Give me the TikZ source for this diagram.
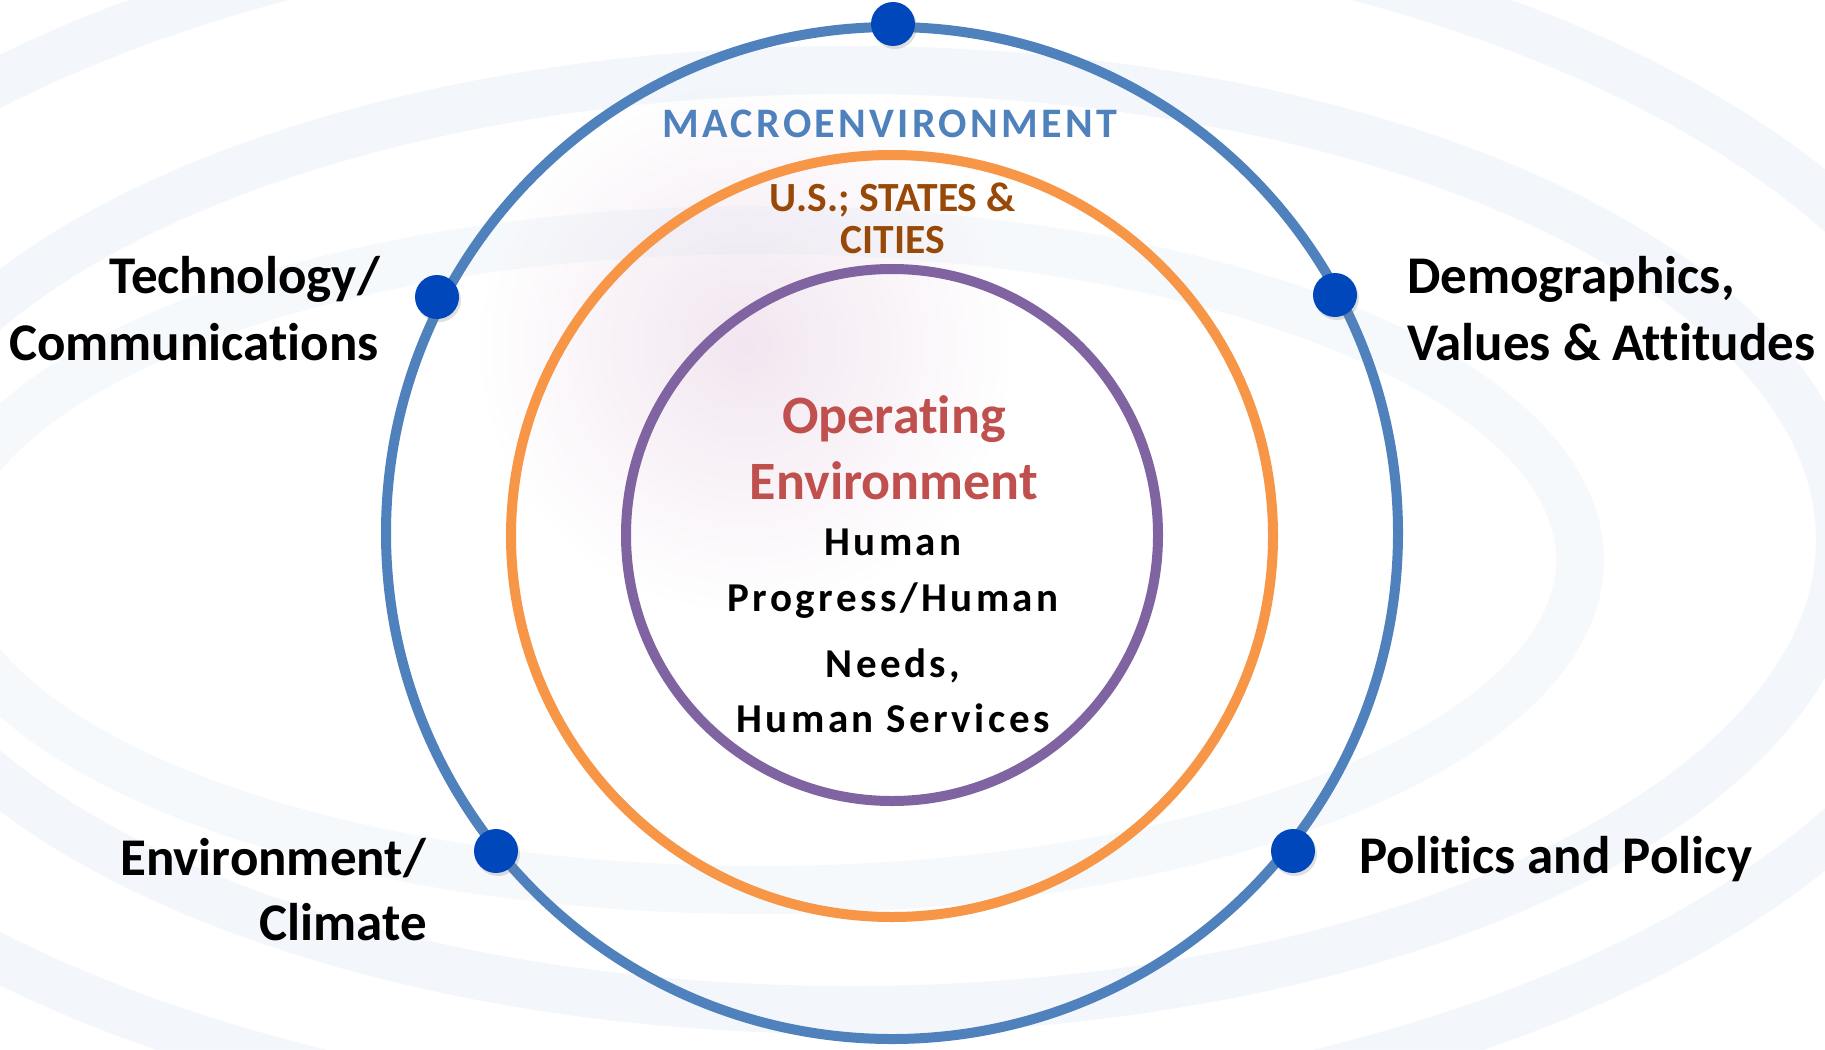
\documentclass[tikz,border=0pt]{standalone}
\usepackage{fontspec}
\setmainfont{Carlito}[Ligatures=NoCommon]
\newfontfamily\spacedfont{Carlito}[LetterSpace=8.5, Ligatures=NoCommon]
\newfontfamily\macrofont{Carlito}[LetterSpace=8, Ligatures=NoCommon]
\usetikzlibrary{shadows}
\definecolor{ringblue}{RGB}{79,129,189}
\definecolor{ringorange}{RGB}{247,150,70}
\definecolor{ringpurple}{RGB}{128,100,162}
\definecolor{dotblue}{RGB}{0,71,187}
\definecolor{usbrown}{RGB}{152,72,7}
\definecolor{opred}{RGB}{192,80,77}
\definecolor{swirl}{RGB}{214,226,240}
\definecolor{blush}{RGB}{242,230,240}
\tikzset{
  ring/.style={circle, draw=#1, line width=10pt, inner sep=0pt, outer sep=0pt},
  bigdot/.style={circle, fill=dotblue, minimum size=44pt, inner sep=0pt,
    drop shadow={shadow xshift=2pt, shadow yshift=-3pt, opacity=0.25}},
  outerlabel/.style={font=\fontsize{53}{66}\selectfont\bfseries, text=black, inner sep=0pt},
  centerred/.style={font=\fontsize{54}{64}\selectfont\bfseries, text=opred, inner sep=0pt, anchor=base},
  centerblack/.style={font=\fontsize{41}{50}\spacedfont\bfseries, text=black, inner sep=0pt, anchor=base},
  usstyle/.style={font=\fontsize{41.5}{43}\selectfont\bfseries, text=usbrown, inner sep=0pt, anchor=base},
  swirlband/.style={draw=swirl, line width=48pt, opacity=0.28}
}
\begin{document}
\begin{tikzpicture}[x=1pt,y=-1pt]
\path[use as bounding box, fill=white] (0,0) rectangle (1825,1049);
\begin{scope}
\clip (0,0) rectangle (1825,1049);
\shade[inner color=blush, outer color=white] (745,345) circle[radius=270];
\draw[swirlband] (850,540) ellipse[x radius=990, y radius=470];
\draw[swirlband] (820,520) ellipse[x radius=1180, y radius=610];
\draw[swirlband, opacity=0.2] (760,560) ellipse[x radius=820, y radius=330];
\end{scope}
% rings
\node[ring=ringblue, minimum size=1012pt] (outer) at (892,533) {};
\node[ring=ringorange, minimum size=762pt] (middle) at (892,536) {};
\node[ring=ringpurple, minimum size=532pt] (inner) at (892,535) {};
% dots
\node[bigdot] (dtop) at (893,24) {};
\node[bigdot] (dtl) at (437,297) {};
\node[bigdot] (dtr) at (1335,295) {};
\node[bigdot] (dbl) at (496,851) {};
\node[bigdot] (dbr) at (1293,851) {};
% ring labels
\node[font=\fontsize{42}{50}\macrofont\bfseries, text=ringblue, inner sep=0pt, anchor=base] (mac) at (890,137) {MACROENVIRONMENT};
\node[usstyle] (us1) at (893,211) {U.S.; STATES \&};
\node[usstyle] (us2) at (893,253) {CITIES};
\node[centerred] (op1) at (894,433) {Operating};
\node[centerred] (op2) at (894,499) {Environment};
\node[centerblack] (h1) at (893,555) {Human};
\node[centerblack] (h2) at (893,611) {Progress/Human};
\node[centerblack] (h3) at (893,677) {Needs,};
\node[centerblack] (h4) at (893,732) {Human Services};
% outer labels
\node[outerlabel, anchor=base east] (tech1) at (380,293) {Technology/};
\node[outerlabel, anchor=base east] (tech2) at (379,360) {Communications};
\node[outerlabel, anchor=base west] (demo1) at (1407,293) {Demographics,};
\node[outerlabel, anchor=base west] (demo2) at (1407,360) {Values \& Attitudes};
\node[outerlabel, anchor=base east] (env1) at (426,875) {Environment/};
\node[outerlabel, anchor=base east] (env2) at (427,940) {Climate};
\node[outerlabel, anchor=base west] (pol) at (1359,873) {Politics and Policy};
\end{tikzpicture}
\end{document}
